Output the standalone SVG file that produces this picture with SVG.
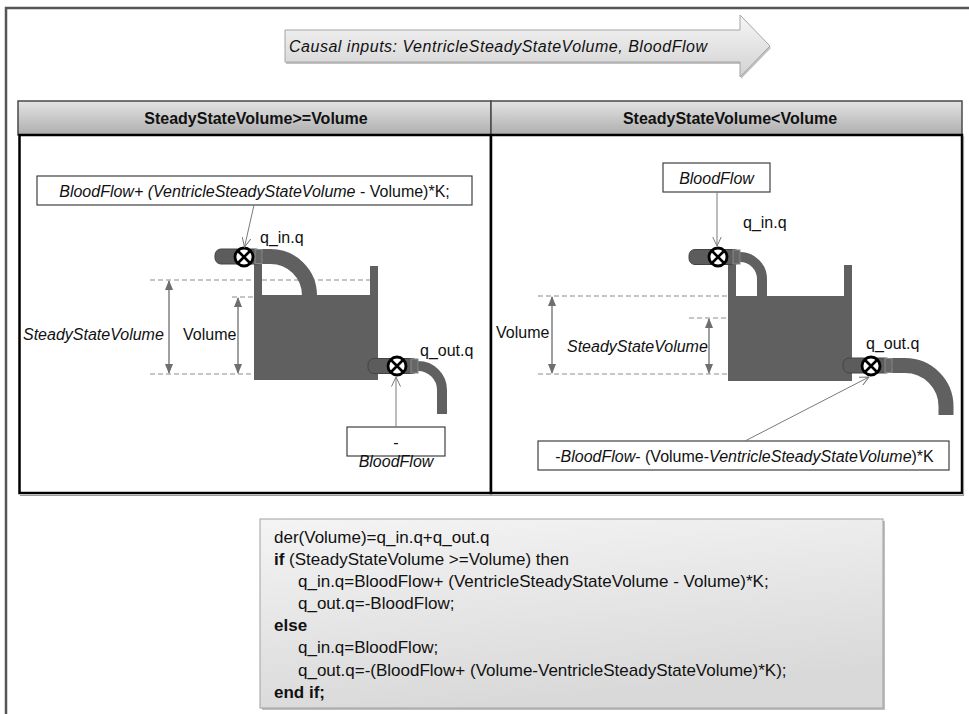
<svg xmlns="http://www.w3.org/2000/svg" width="969" height="714" viewBox="0 0 969 714">
  <style>
    .lbl { font-family: "Liberation Sans", Arial, sans-serif; font-size: 16px; fill: #111; }
    .it { font-style: italic; }
    .hdr { font-family: "Liberation Sans", Arial, sans-serif; font-size: 16px; font-weight: bold; fill: #111; }
    .code { font-family: "Liberation Sans", Arial, sans-serif; font-size: 17px; fill: #111; }
    .b { font-weight: bold; }
    .box { fill: #fff; stroke: #404040; stroke-width: 1.2; }
    .metal { fill: #606060; }
    .pipe { fill: none; stroke: #606060; }
    .stub { fill: #5c5c5c; stroke: #444; stroke-width: 1; }
    .stubend { fill: #666; stroke: #8a8a8a; stroke-width: 1; }
    .dash { stroke: #8c8c8c; stroke-width: 1.2; stroke-dasharray: 5 3; fill: none; }
    .dim { stroke: #808080; stroke-width: 1.5; fill: none; marker-start: url(#dimHead); marker-end: url(#dimHead); }
    .conn { stroke: #7a7a7a; stroke-width: 1; fill: none; marker-end: url(#openHead); }
  </style>
  <defs>
    <linearGradient id="hdrGrad" x1="0" y1="0" x2="0" y2="1">
      <stop offset="0" stop-color="#e4e4e4"/>
      <stop offset="1" stop-color="#adadad"/>
    </linearGradient>
    <linearGradient id="bannerGrad" x1="0" y1="0" x2="0" y2="1">
      <stop offset="0" stop-color="#f6f6f6"/>
      <stop offset="1" stop-color="#d2d2d2"/>
    </linearGradient>
    <linearGradient id="codeGrad" x1="0" y1="0" x2="0.3" y2="1">
      <stop offset="0" stop-color="#f4f4f4"/>
      <stop offset="1" stop-color="#d9d9d9"/>
    </linearGradient>
    <marker id="dimHead" viewBox="0 0 10 8" refX="9" refY="4" markerWidth="10" markerHeight="8" markerUnits="userSpaceOnUse" orient="auto-start-reverse">
      <path d="M0,0 L10,4 L0,8 Z" fill="#6e6e6e"/>
    </marker>
    <marker id="openHead" viewBox="0 0 10 10" refX="9.5" refY="5" markerWidth="10" markerHeight="10" markerUnits="userSpaceOnUse" orient="auto">
      <path d="M0,0.5 L9.5,5 L0,9.5" fill="none" stroke="#7a7a7a" stroke-width="1"/>
    </marker>
    <g id="valve">
      <circle r="9" fill="#fff" stroke="#000" stroke-width="2.8"/>
      <path d="M-6,-6 L6,6 M6,-6 L-6,6" stroke="#000" stroke-width="2.6"/>
    </g>
  </defs>

  <rect width="969" height="714" fill="#fff"/>

  <!-- outer frame (runs off the right and bottom edges) -->
  <path d="M6,714 V8 H969" fill="none" stroke="#555" stroke-width="2.5"/>

  <!-- causal input banner arrow -->
  <g id="causal-inputs">
    <path d="M286,32 H741 V17 L771,48 L741,79 V64 H286 Z" fill="#9a9a9a" opacity="0.6"/>
    <path d="M285,30 H740 V15 L770,46 L740,77 V62 H285 Z" fill="url(#bannerGrad)" stroke="#a4a4a4" stroke-width="1"/>
    <text class="lbl it" x="289" y="52" font-size="17" textLength="418">Causal inputs: VentricleSteadyStateVolume, BloodFlow</text>
  </g>

  <!-- case panels -->
  <g id="panel-left">
    <rect x="18" y="101" width="473" height="34" fill="url(#hdrGrad)" stroke="#4a4a4a" stroke-width="1.5"/>
    <text class="hdr" x="256" y="124" text-anchor="middle">SteadyStateVolume&gt;=Volume</text>
    <rect x="19.5" y="135" width="471.5" height="358" fill="#fff" stroke="#000" stroke-width="2.5"/>
  </g>
  <g id="panel-right">
    <rect x="491" y="101" width="471" height="34" fill="url(#hdrGrad)" stroke="#4a4a4a" stroke-width="1.5"/>
    <text class="hdr" x="730" y="124" text-anchor="middle">SteadyStateVolume&lt;Volume</text>
    <rect x="491" y="135" width="471" height="358" fill="#fff" stroke="#000" stroke-width="2.5"/>
  </g>
  <path d="M20,495.5 H963.5 V136" fill="none" stroke="#9a9a9a" stroke-width="1.2"/>

  <!-- left case: level markers -->
  <g id="levels-left">
    <path class="dash" d="M150,280 H370 M232,297 H254 M150,374 H254"/>
    <path class="dim" d="M169,281 V373"/>
    <path class="dim" d="M238,298 V373"/>
    <text class="lbl it" x="23" y="340">SteadyStateVolume</text>
    <text class="lbl" x="183" y="340">Volume</text>
  </g>

  <!-- left case: tank -->
  <g id="tank-left">
    <rect class="metal" x="254" y="262" width="8" height="118"/>
    <rect class="metal" x="370" y="266" width="8" height="114"/>
    <rect class="metal" x="262" y="295" width="108" height="85"/>
    <path class="pipe" d="M258,256.5 H270 A39,39 0 0 1 309.5,295.5" stroke-width="15"/>
    <path class="pipe" d="M414,366 H418 A24,24 0 0 1 442,390 V414" stroke-width="10"/>
  </g>
  <g id="q-in-left">
    <rect class="stub" x="215" y="249" width="47" height="15" rx="6"/>
    <rect class="stubend" x="255" y="249.5" width="7" height="14"/>
    <use href="#valve" x="244" y="257"/>
    <text class="lbl" x="260" y="243">q_in.q</text>
  </g>
  <g id="q-out-left">
    <rect class="stub" x="368" y="358.5" width="50" height="15" rx="6"/>
    <rect class="stubend" x="411" y="359" width="7" height="14"/>
    <use href="#valve" x="397" y="366"/>
    <text class="lbl" x="420" y="356">q_out.q</text>
  </g>
  <g id="expr-in-left">
    <rect class="box" x="37" y="176" width="435" height="29"/>
    <text class="lbl" x="254.5" y="197" text-anchor="middle"><tspan class="it">BloodFlow+ (VentricleSteadyStateVolume</tspan> - Volume)*K;</text>
  </g>
  <g id="expr-out-left">
    <rect class="box" x="347" y="427" width="98" height="29"/>
    <text class="lbl" x="396" y="448" text-anchor="middle">-</text>
    <text class="lbl it" x="396" y="467" text-anchor="middle">BloodFlow</text>
  </g>

  <!-- right case: level markers -->
  <g id="levels-right">
    <path class="dash" d="M538,296 H728 M689,318 H728 M538,374 H728"/>
    <path class="dim" d="M552,297 V373"/>
    <path class="dim" d="M709,319 V373"/>
    <text class="lbl" x="496" y="338">Volume</text>
    <text class="lbl it" x="567" y="352">SteadyStateVolume</text>
  </g>

  <!-- right case: tank -->
  <g id="tank-right">
    <rect class="metal" x="728" y="262" width="8" height="119"/>
    <rect class="metal" x="844" y="265" width="8" height="116"/>
    <rect class="metal" x="736" y="296" width="108" height="85"/>
    <path class="pipe" d="M736,257 H740 A22,22 0 0 1 762,279 V296" stroke-width="10"/>
    <path class="pipe" d="M888,365.5 H905 A41,41 0 0 1 946,406.5 V415" stroke-width="15"/>
  </g>
  <g id="q-in-right">
    <rect class="stub" x="689" y="249.5" width="51" height="15" rx="6"/>
    <rect class="stubend" x="733" y="250" width="7" height="14"/>
    <use href="#valve" x="718" y="257"/>
    <text class="lbl" x="743" y="228">q_in.q</text>
  </g>
  <g id="q-out-right">
    <rect class="stub" x="843" y="358" width="49" height="15" rx="6"/>
    <rect class="stubend" x="885" y="358.5" width="7" height="14"/>
    <use href="#valve" x="871" y="366"/>
    <text class="lbl" x="866" y="349">q_out.q</text>
  </g>
  <g id="expr-in-right">
    <rect class="box" x="663" y="163" width="107" height="29"/>
    <text class="lbl it" x="716.5" y="184" text-anchor="middle">BloodFlow</text>
  </g>
  <g id="expr-out-right">
    <rect class="box" x="538" y="441" width="411" height="29"/>
    <text class="lbl" x="744.5" y="462" text-anchor="middle">-<tspan class="it">BloodFlow</tspan>- (Volume-<tspan class="it">VentricleSteadyStateVolume</tspan>)*K</text>
  </g>

  <!-- connectors from expressions to the flow ports -->
  <g id="connectors">
    <path class="conn" d="M254,205 L244.5,247"/>
    <path class="conn" d="M396,427 V377"/>
    <path class="conn" d="M717,192 V246"/>
    <path class="conn" d="M745,441 L869,377"/>
  </g>

  <!-- equations -->
  <g id="equations">
    <rect x="262" y="521" width="623" height="189" fill="#8a8a8a" opacity="0.55"/>
    <rect x="260" y="519" width="623" height="189" fill="url(#codeGrad)" stroke="#a0a0a0" stroke-width="1"/>
    <text class="code" x="274" y="543">der(Volume)=q_in.q+q_out.q</text>
    <text class="code" x="274" y="565"><tspan class="b">if</tspan> (SteadyStateVolume &gt;=Volume) then</text>
    <text class="code" x="298" y="587">q_in.q=BloodFlow+ (VentricleSteadyStateVolume - Volume)*K;</text>
    <text class="code" x="298" y="609">q_out.q=-BloodFlow;</text>
    <text class="code b" x="274" y="631">else</text>
    <text class="code" x="298" y="653">q_in.q=BloodFlow;</text>
    <text class="code" x="298" y="676">q_out.q=-(BloodFlow+ (Volume-VentricleSteadyStateVolume)*K);</text>
    <text class="code b" x="274" y="698">end if;</text>
  </g>
</svg>
